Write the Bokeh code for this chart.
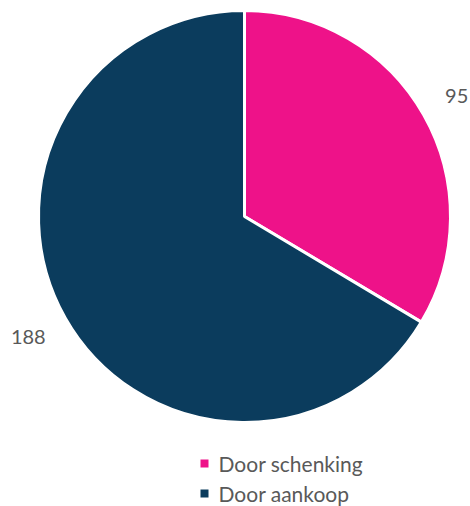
import math
from bokeh.plotting import figure
from bokeh.models import Range1d, ColumnDataSource
from bokeh.core.properties import value
from bokeh.embed import file_html
from bokeh.resources import INLINE

categories = ["Door schenking", "Door aankoop"]
counts = [95, 188]
colors = ["#EE1289", "#0B3C5D"]

W, H = 470, 506
p = figure(width=W, height=H, output_backend="svg", toolbar_location=None,
           x_range=Range1d(0, W), y_range=Range1d(0, H),
           min_border=0, outline_line_color=None)
p.axis.visible = False
p.grid.visible = False
p.background_fill_color = "white"

def fy(y):
    return H - y

cx, cy, r = 244, fy(216), 206
total = sum(counts)
starts, ends, mids = [], [], []
a = math.pi / 2
for c in counts:
    sweep = c / total * 2 * math.pi
    ends.append(a)
    starts.append(a - sweep)
    mids.append(a - sweep / 2)
    a -= sweep

src = ColumnDataSource(dict(start=starts, end=ends, color=colors, cat=categories))
p.wedge(x=cx, y=cy, radius=r, start_angle="start", end_angle="end",
        fill_color="color", line_color="white", line_width=3, source=src)

lr = 244
lx = [cx + lr * math.cos(m) for m in mids]
ly = [cy + lr * math.sin(m) for m in mids]
lx[1] -= 4
p.text(x=lx, y=ly, text=[str(c) for c in counts], text_align="center",
       text_baseline="middle", text_font=value("Lato"), text_font_size="20px",
       text_color="#595959")

# legend
leg_y = [fy(463), fy(493)]
p.scatter(x=[204] * 2, y=leg_y, marker="square", size=8, fill_color=colors,
          line_color=None)
p.text(x=[218] * 2, y=leg_y, text=categories, text_align="left",
       text_baseline="middle", text_font=value("Lato"), text_font_size="21px",
       text_color="#595959")

open("out.html", "w").write(file_html(p, INLINE))
